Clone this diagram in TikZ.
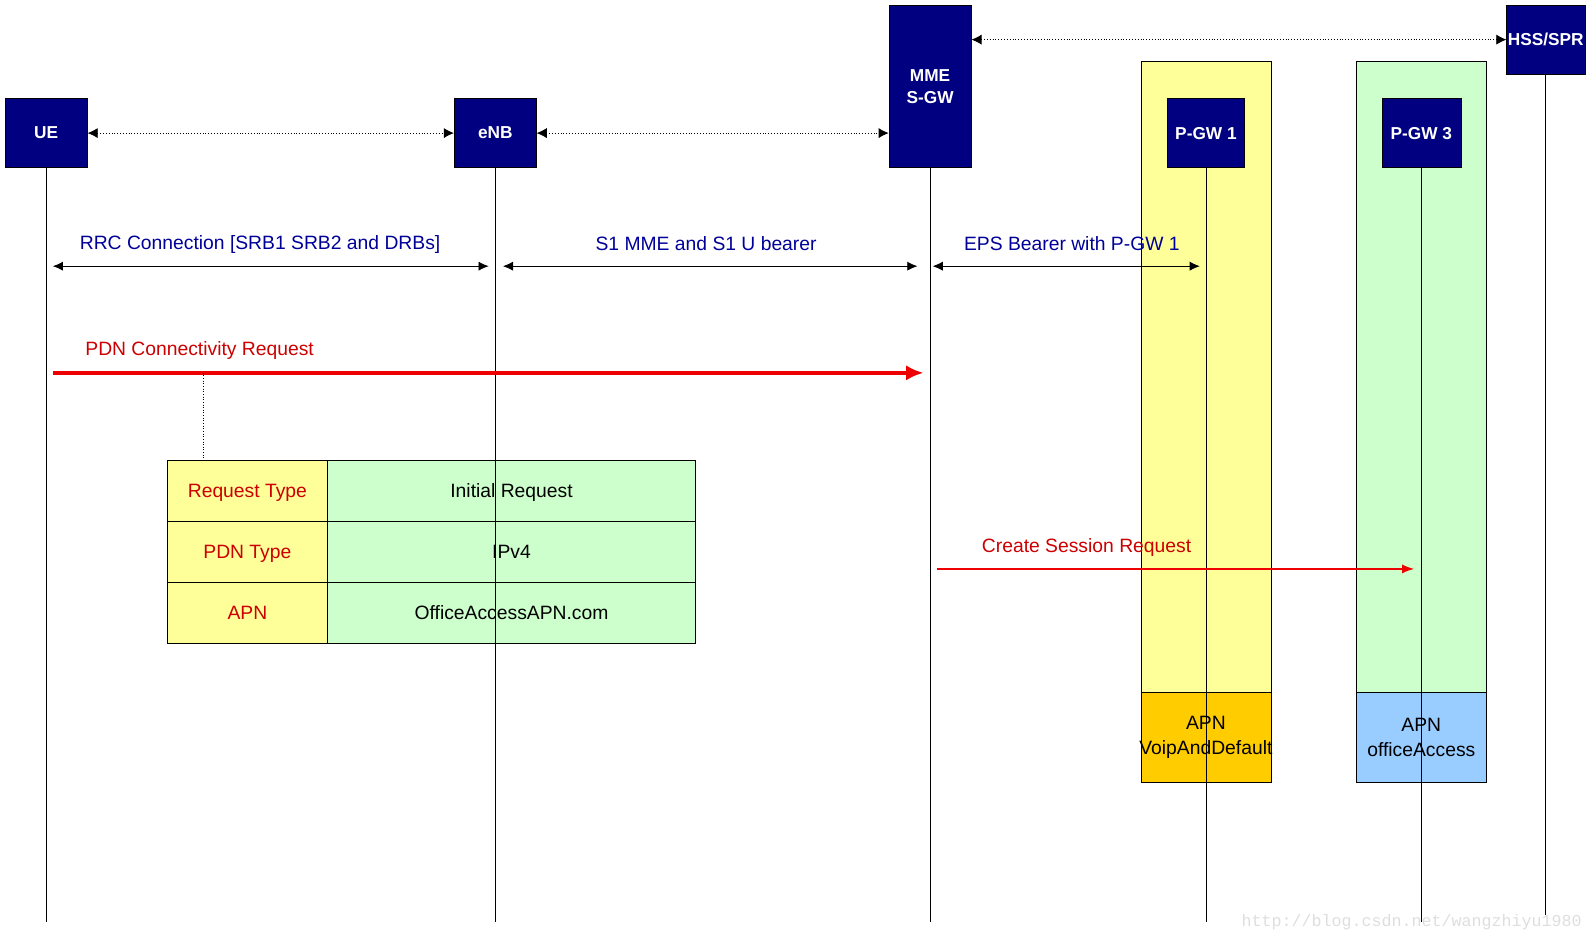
\documentclass[tikz,border=0pt]{standalone}
\usepackage{fontspec}
\setmainfont{Liberation Sans}
\newfontfamily\markfont{Liberation Mono}
\usepackage{xcolor}
\usetikzlibrary{arrows.meta,positioning,calc}
\definecolor{navy}{HTML}{000080}
\definecolor{gwyellow}{HTML}{FFFF99}
\definecolor{gwgreen}{HTML}{CCFFCC}
\definecolor{apnorange}{HTML}{FFCC00}
\definecolor{apnblue}{HTML}{99CCFF}
\definecolor{lblblue}{HTML}{000099}
\definecolor{lblred}{HTML}{CC0000}
\definecolor{msgred}{HTML}{EE0000}
\tikzstyle{entity} = [draw=black, fill=navy, text=white, font=\fontsize{17}{22}\selectfont\bfseries, align=center, inner sep=0pt, minimum height=68]
\tikzstyle{gwzone} = [draw=black, line width=0.8pt, minimum width=128, minimum height=622, inner sep=0pt, outer sep=0pt]
\tikzstyle{apnbox} = [draw=black, line width=0.8pt, minimum width=128, minimum height=88, inner sep=0pt, outer sep=0pt, align=center, font=\fontsize{19}{25}\selectfont]
\tikzstyle{keycell} = [draw, line width=1pt, fill=gwyellow, text=lblred, minimum width=157, minimum height=60, inner sep=0pt, outer sep=0pt, text height=16pt, text depth=2.4pt, font=\fontsize{19}{23}\selectfont]
\tikzstyle{valcell} = [draw, line width=1pt, fill=gwgreen, minimum width=363, minimum height=60, inner sep=0pt, outer sep=0pt, text height=16pt, text depth=2.4pt, font=\fontsize{19}{23}\selectfont]
\tikzstyle{blbl} = [text=lblblue, font=\fontsize{19}{23}\selectfont]
\tikzstyle{rlbl} = [text=lblred, font=\fontsize{19}{23}\selectfont]
\tikzstyle{lifeline} = [line width=0.8pt]
\tikzstyle{link} = [dotted, line width=0.8pt, {Latex[length=10pt,width=10pt]}-{Latex[length=10pt,width=10pt]}]
\tikzstyle{bearer} = [line width=0.8pt, {Latex[length=10pt,width=9pt]}-{Latex[length=10pt,width=9pt]}]
\tikzstyle{bigmsg} = [line width=3.6pt, msgred, -{Latex[length=17pt,width=15pt]}]
\tikzstyle{msg} = [line width=1.4pt, msgred, -{Latex[length=12pt,width=9pt]}]

\begin{document}
\begin{tikzpicture}[x=1pt, y=-1pt]
    \useasboundingbox (0,0) rectangle (1568,928);
    % gateway zones
    \node[gwzone, fill=gwyellow] (zone1) at (1187,371) {};
    \node[gwzone, fill=gwgreen] (zone3) at (1399,371) {};
    \node[apnbox, fill=apnorange, below=0pt of zone1] (apn1) {APN\\\makebox[120pt]{VoipAndDefault}};
    \node[apnbox, fill=apnblue, below=0pt of zone3] (apn3) {APN\\officeAccess};
    % entities
    \node[entity, minimum width=81] (UE) at (45.5,131) {UE};
    \node[entity, minimum width=81] (eNB) at (487.5,131) {eNB};
    \node[entity, minimum width=81, minimum height=160] (MME) at (915.5,85) {MME\\S-GW};
    \node[entity, minimum width=77] (HSS) at (1521.5,39) {HSS/SPR};
    \node[entity, minimum width=76] (PGW1) at (1187,131) {P-GW 1};
    \node[entity, minimum width=78] (PGW3) at (1399,131) {P-GW 3};
    % PDN connectivity parameters
    \node[keycell] (rt) at (243.5,483) {Request Type};
    \node[valcell, right=0pt of rt] (rtv) {Initial Request};
    \node[keycell, below=0pt of rt] (pt) {PDN Type};
    \node[valcell, right=0pt of pt] (ptv) {IPv4};
    \node[keycell, below=0pt of pt] (apn) {APN};
    \node[valcell, right=0pt of apn] (apnv) {OfficeAccessAPN.com};
    % lifelines
    \coordinate (end) at (0,908);
    \foreach \n in {UE,eNB,MME,PGW1,PGW3}
        \draw[lifeline] (\n) -- (\n |- end);
    \draw[lifeline] (HSS) -- (HSS |- 0,901);
    % interfaces
    \draw[link] (UE.east) -- (eNB.west);
    \draw[link] (eNB.east) -- (eNB.east -| MME.west);
    \draw[link] (MME.east |- HSS.west) -- (HSS.west);
    % bearers
    \coordinate (rrcA) at (52,262);
    \coordinate (rrcB) at (481,262);
    \coordinate (s1A) at (495,262);
    \coordinate (s1B) at (903,262);
    \coordinate (epsA) at (918,262);
    \coordinate (epsB) at (1181,262);
    \draw[bearer] (rrcA) -- (rrcB);
    \draw[bearer] (s1A) -- (s1B);
    \draw[bearer] (epsA) -- (epsB);
    \node[blbl] (rrclbl) at (256,241) {RRC Connection [SRB1 SRB2 and DRBs]};
    \node[blbl] (s1lbl) at (695,240) {S1 MME and S1 U bearer};
    \node[blbl] (epslbl) at (1055,240) {EPS Bearer with P-GW 1};
    % messages
    \coordinate (pdnA) at (52,367);
    \coordinate (pdnB) at (909,367);
    \coordinate (tap) at (200,367);
    \draw[bigmsg] (pdnA) -- (pdnB);
    \node[rlbl] (pdnlbl) at (196.5,345) {PDN Connectivity Request};
    \draw[dotted, line width=0.6pt] (tap) -- (tap |- rt.north);
    \coordinate (csA) at (922,560);
    \coordinate (csB) at (1392,560);
    \draw[msg] (csA) -- (csB);
    \node[rlbl] (cslbl) at (1069.5,539) {Create Session Request};
    \node[text=black!13, font=\markfont\fontsize{16.4}{18}\selectfont] (mark) at (1389.5,908) {http://blog.csdn.net/wangzhiyu1980};
\end{tikzpicture}
\end{document}
